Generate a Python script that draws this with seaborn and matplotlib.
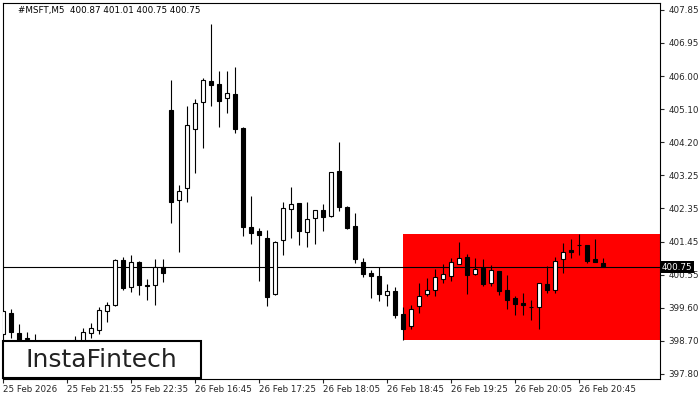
import matplotlib
matplotlib.use("Agg")
import matplotlib.pyplot as plt
from matplotlib.patches import Rectangle
import numpy as np
import pandas as pd
import seaborn as sns

symbol_title = "#MSFT,M5  400.87 401.01 400.75 400.75"
last_price = 400.75
zone_start = 50  # bar where the red zone begins

# OHLC of the 5-minute bars, left to right
opens = [398.90, 399.49, 398.92, 398.80, 398.60, 398.46, 398.32, 398.40, 398.49, 398.60,
         398.68, 398.92, 399.01, 399.54, 399.70, 400.94, 400.19, 400.90, 400.25, 400.25,
         400.74, 405.08, 402.60, 402.92, 404.55, 405.31, 405.89, 405.80, 405.42, 405.52,
         404.60, 401.85, 401.74, 401.54, 400.00, 401.50, 402.34, 402.51, 401.72, 402.11,
         402.32, 402.17, 403.40, 402.41, 401.88, 400.88, 400.58, 400.50, 399.97, 400.08,
         399.45, 399.12, 399.67, 400.00, 400.11, 400.43, 400.51, 400.84, 401.02, 400.56,
         400.73, 400.32, 400.64, 400.11, 399.89, 399.75, 399.65, 399.65, 400.28, 400.13,
         400.96, 401.22, 401.35, 401.36, 400.96, 400.87]
highs = [399.56, 399.58, 399.18, 398.96, 398.90, 398.68, 398.60, 398.65, 398.71, 398.84,
         399.06, 399.20, 399.65, 399.79, 400.97, 401.02, 401.08, 400.92, 400.41, 400.96,
         400.96, 405.91, 403.01, 405.20, 405.38, 405.96, 407.46, 406.17, 406.17, 406.28,
         404.62, 402.71, 401.82, 401.77, 401.47, 402.55, 402.95, 402.52, 402.55, 402.33,
         402.49, 403.37, 404.19, 402.44, 402.23, 400.99, 400.67, 400.74, 400.28, 400.19,
         399.65, 399.70, 400.30, 400.44, 400.69, 400.83, 401.01, 401.44, 401.11, 400.99,
         400.97, 400.81, 400.65, 400.53, 399.95, 400.04, 399.84, 400.31, 400.78, 401.02,
         401.42, 401.52, 401.66, 401.36, 401.52, 401.01]
lows = [398.87, 398.78, 398.46, 398.40, 398.32, 398.18, 398.13, 398.24, 398.35, 398.46,
        398.57, 398.79, 398.90, 399.24, 399.67, 400.13, 400.07, 399.98, 399.84, 399.70,
        400.34, 401.96, 401.16, 402.55, 403.34, 404.03, 405.20, 404.62, 405.01, 404.46,
        401.61, 401.40, 400.37, 399.68, 399.98, 401.08, 401.54, 401.36, 401.31, 401.40,
        401.75, 402.12, 402.30, 401.81, 400.85, 400.48, 399.90, 399.82, 399.68, 399.35,
        398.74, 399.03, 399.49, 399.96, 399.95, 400.32, 400.37, 400.83, 400.00, 400.53,
        400.23, 400.23, 399.98, 399.59, 399.42, 399.42, 399.29, 399.04, 400.04, 400.04,
        400.58, 401.01, 401.08, 400.87, 400.90, 400.75]
closes = [399.54, 398.95, 398.60, 398.76, 398.46, 398.29, 398.46, 398.51, 398.62, 398.73,
          398.95, 399.06, 399.56, 399.70, 400.94, 400.16, 400.88, 400.25, 400.23, 400.76,
          400.58, 402.54, 402.86, 404.67, 405.27, 405.91, 405.79, 405.34, 405.55, 404.55,
          401.85, 401.68, 401.63, 399.91, 401.45, 402.37, 402.49, 401.75, 402.07, 402.32,
          402.14, 403.37, 402.42, 401.84, 400.96, 400.55, 400.51, 400.00, 400.08, 399.43,
          399.05, 399.58, 399.95, 400.11, 400.47, 400.55, 400.88, 400.99, 400.54, 400.69,
          400.29, 400.66, 400.10, 399.85, 399.74, 399.71, 399.64, 400.30, 400.11, 400.91,
          401.17, 401.17, 401.35, 400.92, 400.90, 400.75]

x_tick_labels = ["25 Feb 2026", "25 Feb 21:55", "25 Feb 22:35", "26 Feb 16:45", "26 Feb 17:25",
                 "26 Feb 18:05", "26 Feb 18:45", "26 Feb 19:25", "26 Feb 20:05", "26 Feb 20:45"]
y_tick_labels = ["407.85", "406.95", "406.00", "405.10", "404.20", "403.25",
                 "402.35", "401.45", "400.55", "399.60", "398.70", "397.80"]

sns.set_style("ticks")
plt.rcParams["font.family"] = ["DejaVu Sans"]

df = pd.DataFrame({"open": opens, "high": highs, "low": lows, "close": closes})
df["bar"] = np.arange(len(df))
df["bull"] = df["close"] >= df["open"]

fig = plt.figure(figsize=(7, 4), dpi=100)
ax = fig.add_axes([3 / 700, 21 / 400, 657 / 700, 376 / 400])

# red zone: range of the bars from zone_start on
zone = df[df["bar"] >= zone_start]
ax.fill_between([zone_start, 200], zone["low"].min(), zone["high"].max(),
                color="#ff0000", lw=0, zorder=1)
ax.axhline(last_price, color="black", lw=0.8, zorder=2)

# wicks then bodies
ax.vlines(df["bar"], df["low"], df["high"], color="black", lw=0.8, zorder=3)
body_lo = df[["open", "close"]].min(axis=1)
body_h = (df["close"] - df["open"]).abs()
ax.bar(df["bar"], body_h, bottom=body_lo, width=0.5,
       color=np.where(df["bull"], "white", "black"), edgecolor="black", lw=0.8, zorder=4)

ax.set_xlim(-0.04, 82.1)
ax.set_ylim(397.66, 408.04)

ax.set_xticks(np.arange(0, len(df), 8))
ax.set_xticklabels(x_tick_labels, ha="left")
ax.tick_params(axis="x", bottom=True, length=3, width=0.8, pad=1.5, labelsize=6.3)
ax.yaxis.tick_right()
ax.set_yticks(np.linspace(407.85, 397.80, len(y_tick_labels)))
ax.set_yticklabels(y_tick_labels)
ax.tick_params(axis="y", right=True, left=False, length=3, width=0.8, pad=3, labelsize=6.3)
for s in ax.spines.values():
    s.set_visible(True)
    s.set_color("black")
    s.set_linewidth(0.8)

ax.text(1.003, last_price, "400.75", transform=ax.get_yaxis_transform(), ha="left", va="center",
        color="white", fontsize=6.3, zorder=10, clip_on=False,
        bbox=dict(boxstyle="square,pad=0.2", fc="black", ec="none"))

fig.text(18 / 700, 1 - 11 / 400, symbol_title, fontsize=6.3, ha="left", va="center", color="black")

# logo box
fig.add_artist(Rectangle((3 / 700, 22 / 400), 198 / 700, 37 / 400, transform=fig.transFigure,
                         fc="white", ec="black", lw=1.5, zorder=20))
fig.text(101 / 700, 1 - 360 / 400, "InstaFintech", fontsize=18, ha="center", va="center",
         color="#222222", zorder=21)

fig.savefig("out.png", dpi=100)
